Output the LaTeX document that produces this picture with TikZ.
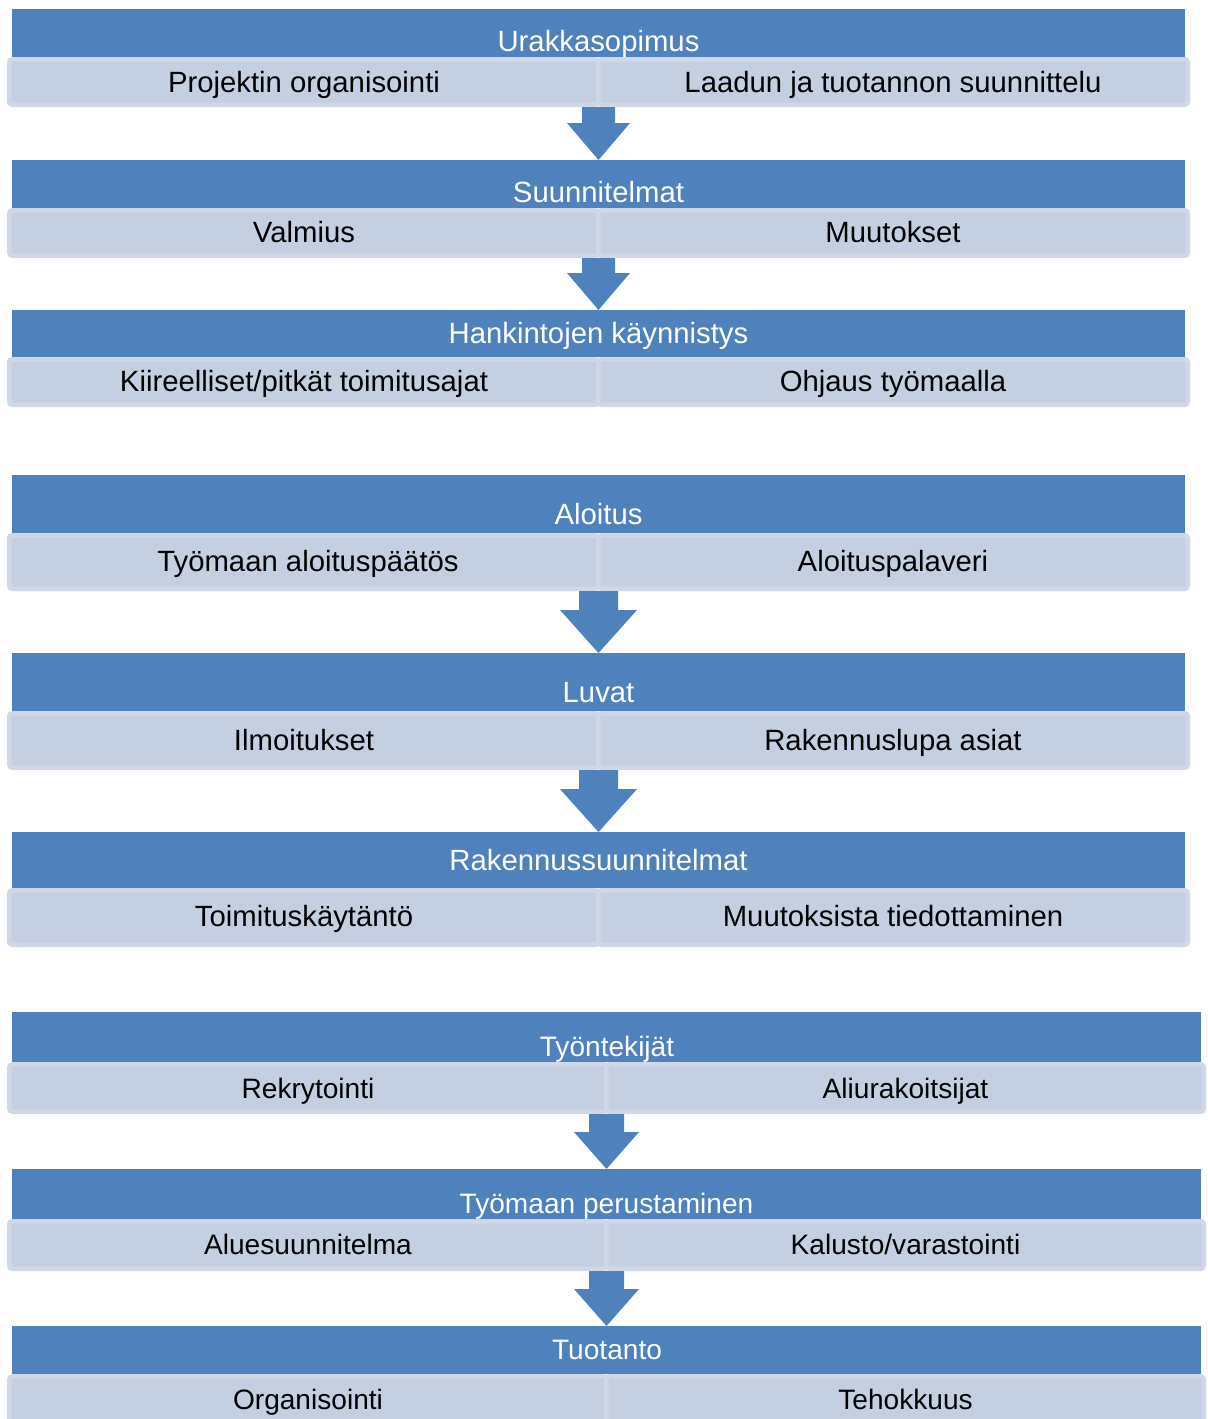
\documentclass[tikz,border=0pt]{standalone}
\usepackage{fontspec}
\setmainfont{Liberation Sans}
\usetikzlibrary{calc}
\definecolor{hblue}{HTML}{4F81BD}
\definecolor{subfill}{RGB}{196,207,226}
\definecolor{subline}{RGB}{208,216,232}
% style, name, x1, x2, y1, y2, line width in px
\newcommand\mkbox[7]{%
  \pgfmathsetmacro\bw{(#4-#3-#7)*0.5}%
  \pgfmathsetmacro\bh{(#6-#5-#7)*0.5}%
  \node[#1, minimum width=\bw pt, minimum height=\bh pt] (#2) at ({(#3+#4)/2},{(#5+#6)/2}) {};}
% from, to, shaft half, head half, head length (pt)
\newcommand\barrow[5]{%
  \fill[hblue] let \p1=(#2.north), \p2=(#1.south) in
    (\x1-#3,\y2) -- (\x1+#3,\y2) -- (\x1+#3,\y1+#5) -- (\x1+#4,\y1+#5)
    -- (\x1,\y1) -- (\x1-#4,\y1+#5) -- (\x1-#3,\y1+#5) -- cycle;}
\begin{document}
\begin{tikzpicture}[x=0.5pt,y=-0.5pt,
  hbox/.style={rectangle, fill=hblue, draw=none, outer sep=0pt, inner sep=0pt},
  sbox/.style={rectangle, fill=subfill, draw=subline, line width=2.25pt, rounded corners=1.5pt, inner sep=0pt},
  htext/.style={text=white, anchor=base, inner sep=0pt, font=\fontsize{14.65}{17}\selectfont},
  stext/.style={text=black, anchor=base, inner sep=0pt, font=\fontsize{14.65}{17}\selectfont},
  small/.style={font=\fontsize{14.05}{17}\selectfont}]
\useasboundingbox (0,0) rectangle (1208,1419);

% ---------- Group A ----------
\mkbox{hbox}{h1}{12}{1185}{9}{57}{0}
\mkbox{sbox}{l1}{7}{601}{57}{107}{4.5}
\mkbox{sbox}{r1}{596}{1190}{57}{107}{4.5}
\node[htext] (th1) at (598.5,51.5) {Urakkasopimus};
\node[stext] (tl1) at (304,92.5) {Projektin organisointi};
\node[stext] (tr1) at (893,92.5) {Laadun ja tuotannon suunnittelu};

\mkbox{hbox}{h2}{12}{1185}{160}{208}{0}
\mkbox{sbox}{l2}{7}{601}{208}{258}{4.5}
\mkbox{sbox}{r2}{596}{1190}{208}{258}{4.5}
\node[htext] (th2) at (598.5,202.5) {Suunnitelmat};
\node[stext] (tl2) at (304,242.5) {Valmius};
\node[stext] (tr2) at (893,242.5) {Muutokset};

\mkbox{hbox}{h3}{12}{1185}{310}{357}{0}
\mkbox{sbox}{l3}{7}{601}{357}{407}{4.5}
\mkbox{sbox}{r3}{596}{1190}{357}{407}{4.5}
\node[htext] (th3) at (598.5,343.5) {Hankintojen käynnistys};
\node[stext] (tl3) at (304,391.5) {Kiireelliset/pitkät toimitusajat};
\node[stext] (tr3) at (893,391.5) {Ohjaus työmaalla};

\barrow{l1}{h2}{8.25pt}{15.75pt}{18.5pt}
\barrow{l2}{h3}{8.25pt}{15.75pt}{18.5pt}

% ---------- Group B ----------
\mkbox{hbox}{h4}{12}{1185}{475}{533}{0}
\mkbox{sbox}{l4}{7}{601}{533}{591}{4.5}
\mkbox{sbox}{r4}{596}{1190}{533}{591}{4.5}
\node[htext] (th4) at (598.5,524.5) {Aloitus};
\node[stext] (tl4) at (308,571.5) {Työmaan aloituspäätös};
\node[stext] (tr4) at (893,571.5) {Aloituspalaveri};

\mkbox{hbox}{h5}{12}{1185}{653}{711}{0}
\mkbox{sbox}{l5}{7}{601}{711}{770}{4.5}
\mkbox{sbox}{r5}{596}{1190}{711}{770}{4.5}
\node[htext] (th5) at (598.5,702.5) {Luvat};
\node[stext] (tl5) at (304,750.5) {Ilmoitukset};
\node[stext] (tr5) at (893,750.5) {Rakennuslupa asiat};

\mkbox{hbox}{h6}{12}{1185}{832}{888}{0}
\mkbox{sbox}{l6}{7}{601}{888}{947}{4.5}
\mkbox{sbox}{r6}{596}{1190}{888}{947}{4.5}
\node[htext] (th6) at (598.5,870.5) {Rakennussuunnitelmat};
\node[stext] (tl6) at (304,926.5) {Toimituskäytäntö};
\node[stext] (tr6) at (893,926.5) {Muutoksista tiedottaminen};

\barrow{l4}{h5}{9.75pt}{19.25pt}{21.5pt}
\barrow{l5}{h6}{9.75pt}{19.25pt}{21.5pt}

% ---------- Group C ----------
\mkbox{hbox}{h7}{12}{1201}{1012}{1062}{0}
\mkbox{sbox}{l7}{7}{609}{1062}{1114}{4.5}
\mkbox{sbox}{r7}{604}{1206}{1062}{1114}{4.5}
\node[htext,small] (th7) at (607,1056.5) {Työntekijät};
\node[stext,small] (tl7) at (308,1098.5) {Rekrytointi};
\node[stext,small] (tr7) at (905.5,1098.5) {Aliurakoitsijat};

\mkbox{hbox}{h8}{12}{1201}{1169}{1219}{0}
\mkbox{sbox}{l8}{7}{609}{1219}{1271}{4.5}
\mkbox{sbox}{r8}{604}{1206}{1219}{1271}{4.5}
\node[htext,small] (th8) at (606.5,1213.5) {Työmaan perustaminen};
\node[stext,small] (tl8) at (308,1254.5) {Aluesuunnitelma};
\node[stext,small] (tr8) at (905.5,1254.5) {Kalusto/varastointi};

\mkbox{hbox}{h9}{12}{1201}{1326}{1374}{0}
\mkbox{sbox}{l9}{7}{609}{1374}{1428}{4.5}
\mkbox{sbox}{r9}{604}{1206}{1374}{1428}{4.5}
\node[htext,small] (th9) at (607,1359.5) {Tuotanto};
\node[stext,small] (tl9) at (308,1409.5) {Organisointi};
\node[stext,small] (tr9) at (905.5,1409.5) {Tehokkuus};

\barrow{l7}{h8}{8.75pt}{16.25pt}{18.5pt}
\barrow{l8}{h9}{8.75pt}{16.25pt}{18.5pt}
\end{tikzpicture}
\end{document}
